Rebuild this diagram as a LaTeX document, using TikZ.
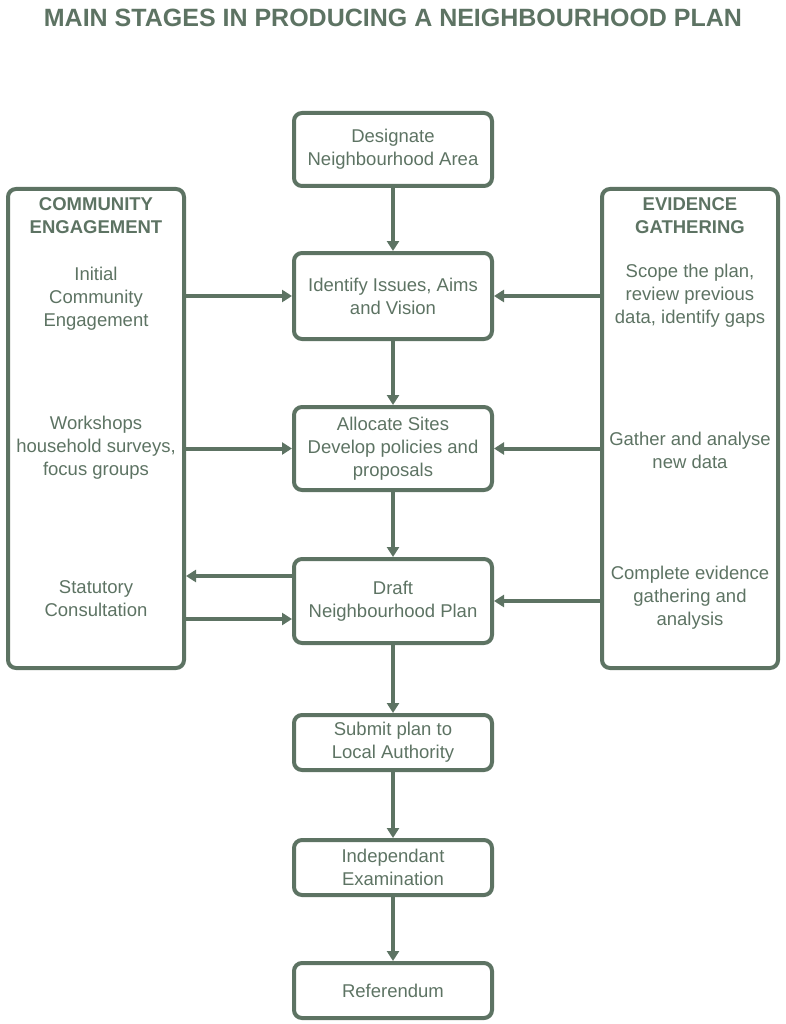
\documentclass[tikz,border=0pt]{standalone}
\usepackage{fontspec}
\setmainfont{Liberation Sans}
\usepackage{tikz}
\usetikzlibrary{arrows.meta}
\definecolor{plangreen}{RGB}{93,115,99}

\begin{document}
\begin{tikzpicture}[x=1pt,y=-1pt,
        every node/.style={text=plangreen, font=\fontsize{18.5}{23}\selectfont, align=center},
        stage/.style={draw=plangreen, line width=4pt, rounded corners=8pt, minimum width=198pt},
        side/.style={draw=plangreen, line width=4pt, rounded corners=8pt, minimum width=176pt, minimum height=479pt},
        head/.style={font=\fontsize{18.5}{23}\selectfont\bfseries},
        arr/.style={draw=plangreen, line width=4pt, -{Triangle[length=10pt,width=12pt]}}]
    \useasboundingbox (0,0) rectangle (785,1024);

    \node[font=\fontsize{25}{30}\selectfont\bfseries] (title) at (393,18) {MAIN STAGES IN PRODUCING A NEIGHBOURHOOD PLAN};

    % central column
    \node[stage, minimum height=73pt] (designate) at (393,149.5) {Designate\\Neighbourhood Area};
    \node[stage, minimum height=86pt] (identify) at (393,296) {Identify Issues, Aims\\and Vision};
    \node[stage, minimum height=83pt] (allocate) at (393,448.5) {Allocate Sites\\Develop policies and\\proposals};
    \node[stage, minimum height=84pt] (draft) at (393,601) {Draft\\Neighbourhood Plan};
    \node[stage, minimum height=55pt] (submit) at (393,742.5) {Submit plan to\\Local Authority};
    \node[stage, minimum height=55pt] (exam) at (393,867.5) {Independant\\Examination};
    \node[stage, minimum height=55pt] (referendum) at (393,990.5) {Referendum};

    % side boxes
    \node[side] (community) at (96,428.5) {};
    \node[side] (evidence) at (690,428.5) {};

    \node[head] (communityhead) at (96,216) {COMMUNITY\\ENGAGEMENT};
    \node (initial) at (96,299) {Initial\\Community\\Engagement};
    \node (workshops) at (96,448) {Workshops\\household surveys,\\focus groups};
    \node (statutory) at (96,599) {Statutory\\Consultation};

    \node[head] (evidencehead) at (690,216) {EVIDENCE\\GATHERING};
    \node (scope) at (690,296) {Scope the plan,\\review previous\\data, identify gaps};
    \node (gather) at (690,450) {Gather and analyse\\new data};
    \node (complete) at (690,598) {Complete evidence\\gathering and\\analysis};

    % ends of the two draft arrows
    \coordinate (draftout) at ([yshift=25pt]draft.west);
    \coordinate (draftin) at ([yshift=-18pt]draft.west);

    % connectors
    \draw[arr] (designate) -- (identify);
    \draw[arr] (identify) -- (allocate);
    \draw[arr] (allocate) -- (draft);
    \draw[arr] (draft) -- (submit);
    \draw[arr] (submit) -- (exam);
    \draw[arr] (exam) -- (referendum);

    \draw[arr] (community.east |- identify.west) -- (identify.west);
    \draw[arr] (community.east |- allocate.west) -- (allocate.west);
    \draw[arr] (draftout) -- (community.east |- draftout);
    \draw[arr] (community.east |- draftin) -- (draftin);

    \draw[arr] (evidence.west |- identify.east) -- (identify.east);
    \draw[arr] (evidence.west |- allocate.east) -- (allocate.east);
    \draw[arr] (evidence.west |- draft.east) -- (draft.east);
\end{tikzpicture}
\end{document}
